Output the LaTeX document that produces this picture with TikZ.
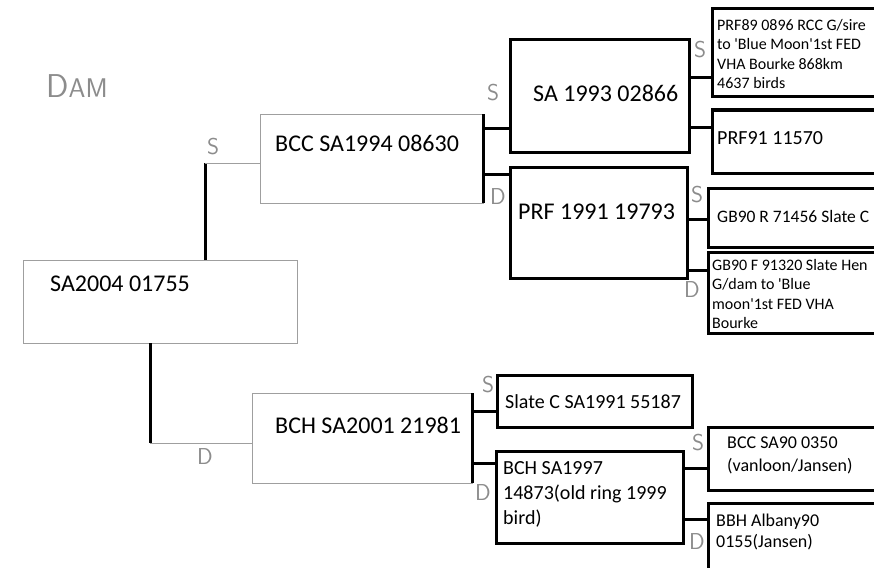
\documentclass[tikz,border=0pt]{standalone}
\usepackage{fontspec}
\setmainfont{Carlito}
\tikzset{
  hand/.style={draw=gray!75, line width=1pt},
  stem/.style={line width=3pt},
  handbox/.style={hand, inner sep=0pt, outer sep=0pt, anchor=north west},
  penbox/.style={draw, line width=3pt, inner sep=0pt, outer sep=0pt, anchor=north west},
  bigname/.style={anchor=west, inner sep=0pt, font=\fontsize{24}{29}\selectfont},
  ringtxt/.style={anchor=north west, inner sep=0pt, align=left},
  sdmark/.style={text=gray!90, font=\sffamily\fontsize{23}{23}\selectfont}
}
\begin{document}
\begin{tikzpicture}[x=1pt,y=-1pt]
\useasboundingbox (0,0) rectangle (874,567);
\clip (0,0) rectangle (874,567);
% hand drawn boxes
\node[sdmark, font=\sffamily\fontsize{33}{33}\selectfont] (dam) at (77,86) {D{\fontsize{27}{27}\selectfont AM}};
\node[handbox, minimum width=274, minimum height=83] (root) at (23,260) {};
\node[handbox, minimum width=223, minimum height=89] (bcc) at (260,114) {};
\node[handbox, minimum width=220, minimum height=90] (bch) at (252,393) {};
% typed boxes
\node[penbox, minimum width=179, minimum height=112] (sa93) at (510,40) {};
\node[penbox, minimum width=177, minimum height=111] (prf) at (510,167) {};
\node[penbox, minimum width=180, minimum height=88] (prf89) at (712,9) {};
\node[penbox, minimum width=180, minimum height=63] (prf91) at (712,110) {};
\node[penbox, minimum width=180, minimum height=59] (gbr) at (708,188) {};
\node[penbox, minimum width=180, minimum height=81] (gbf) at (708,252) {};
\node[penbox, minimum width=195, minimum height=52] (slate) at (497,375) {};
\node[penbox, minimum width=187, minimum height=92] (bch97) at (496,451) {};
\node[penbox, minimum width=180, minimum height=63] (bcc90) at (708,427) {};
\node[penbox, minimum width=180, minimum height=80] (bbh) at (708,503) {};
% names
\node[bigname] (rootT) at (50,284) {SA2004 01755};
\node[bigname] (bccT) at (275,143) {BCC SA1994 08630};
\node[bigname] (sa93T) at (533,93) {SA 1993 02866};
\node[bigname] (prfT) at (518,212) {PRF 1991 19793};
\node[bigname] (bchT) at (275,425) {BCH SA2001 21981};
\node[ringtxt, font=\fontsize{16}{19.5}\selectfont] (prf89T) at (717,19)
  {PRF89 0896 RCC G/sire\\to \textquotesingle Blue Moon\textquotesingle 1st FED\\VHA Bourke 868km\\4637 birds};
\node[ringtxt, anchor=west, font=\fontsize{20}{24}\selectfont] (prf91T) at (717,138) {PRF91 11570};
\node[ringtxt, anchor=west, font=\fontsize{17.5}{21}\selectfont] (gbrT) at (717,216) {GB90 R 71456 Slate C};
\node[ringtxt, font=\fontsize{16}{19.5}\selectfont] (gbfT) at (712,259)
  {GB90 F 91320 Slate Hen\\G/dam to \textquotesingle Blue\\moon\textquotesingle 1st FED VHA\\Bourke};
\node[ringtxt, anchor=west, font=\fontsize{20}{24}\selectfont] (slateT) at (505,402) {Slate C SA1991 55187};
\node[ringtxt, font=\fontsize{20}{25}\selectfont] (bch97T) at (503,461)
  {BCH SA1997\\14873(old ring 1999\\bird)};
\node[ringtxt, font=\fontsize{18}{23}\selectfont] (bcc90T) at (727,437) {BCC SA90 0350\\(vanloon/Jansen)};
\node[ringtxt, font=\fontsize{18}{21}\selectfont] (bbhT) at (716,514) {BBH Albany90\\0155(Jansen)};
% lines
\coordinate (jS) at (205,163);
\coordinate (jD) at (150,443);
\draw[stem] (root.north -| jS) -- (jS);
\draw[hand] (jS) -- (jS -| bcc.west);
\draw[stem] (root.south -| jD) -- (jD);
\draw[hand] (jD) -- (jD -| bch.west);
\foreach \up in {bcc,bch}
  \draw[stem] (\up.north east) -- (\up.south east);
\foreach \up/\kid/\yy in {bcc/sa93/128, bcc/prf/174, sa93/prf89/78, sa93/prf91/127,
    prf/gbr/219, prf/gbf/270, bch/slate/411, bch/bch97/463, bch97/bcc90/468, bch97/bbh/519}
  \draw[stem] (\up.east |- 0,\yy) -- (\kid.west |- 0,\yy);
% sire and dam marks
\node[sdmark] (s1) at (213,147) {S};
\node[sdmark] (d1) at (205,457) {D};
\node[sdmark] (s2) at (493,93) {S};
\node[sdmark] (d2) at (498,197) {D};
\node[sdmark] (s3) at (700,50) {S};
\node[sdmark] (s4) at (697,195) {S};
\node[sdmark] (d4) at (692,290) {D};
\node[sdmark] (s5) at (488,385) {S};
\node[sdmark] (d5) at (483,493) {D};
\node[sdmark] (s6) at (698,443) {S};
\node[sdmark] (d6) at (697,542) {D};
\end{tikzpicture}
\end{document}
